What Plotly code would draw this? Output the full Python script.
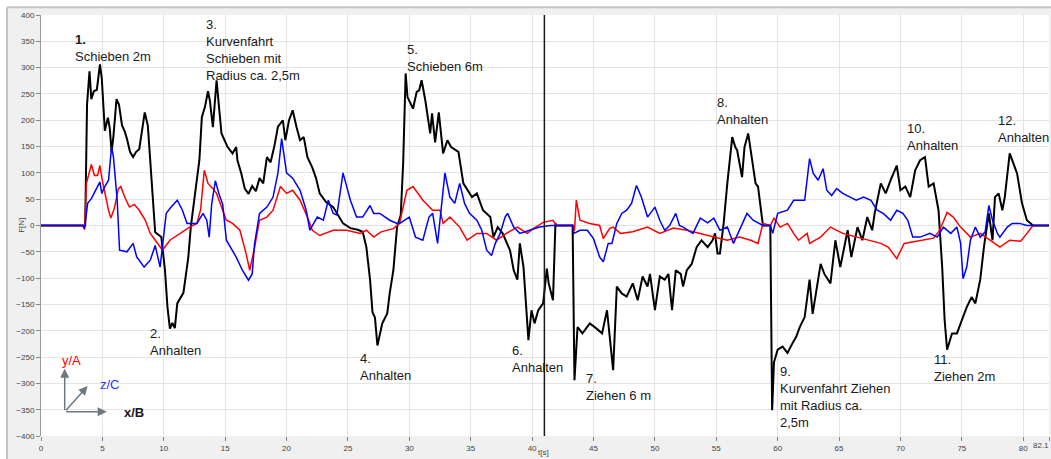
import plotly.graph_objects as go

# ---------------- data ----------------
t_black = [0, 3.5, 3.6, 3.75, 3.95, 4.1, 4.3, 4.55, 4.8, 4.95, 5.2, 5.45, 5.6, 5.75, 5.9, 6.15, 6.35, 6.6, 6.8, 7.0,
           7.25, 7.5, 7.75, 8.0, 8.2, 8.45, 8.7, 8.9, 9.1, 9.3, 9.8, 10.1, 10.3, 10.5, 10.7, 10.9, 11.1, 11.6, 12.0, 12.2,
           12.6, 12.9, 13.1, 13.35, 13.6, 13.75, 14.0, 14.15, 14.3, 14.5, 14.7, 14.95, 15.2, 15.6, 15.9, 16.0, 16.3, 16.6, 16.9, 17.2,
           17.5, 17.8, 18.1, 18.4, 18.7, 19.0, 19.3, 19.7, 19.9, 20.2, 20.5, 20.8, 21.1, 21.4, 21.7, 22.1, 22.4, 22.7, 23.2, 23.8,
           24.2, 24.6, 25.2, 25.8, 26.2, 26.5, 26.8, 27.0, 27.2, 27.4, 27.8, 28.2, 28.4, 28.7, 29.0, 29.3, 29.5, 29.7, 29.85, 30.3,
           30.6, 30.8, 31.0, 31.3, 31.7, 31.85, 32.1, 32.4, 32.75, 33.1, 33.4, 34.0, 34.4, 35.1, 35.5, 36.0, 36.6, 36.85, 37.2, 37.6,
           38.2, 38.5, 38.8, 39.0, 39.3, 39.7, 39.95, 40.2, 40.5, 40.9, 41.2, 41.35, 41.7, 41.9, 42.0, 43.3, 43.45, 43.7, 44.1, 44.7,
           45.2, 45.7, 46.1, 46.6, 46.9, 47.3, 47.7, 48.2, 48.6, 49.0, 49.4, 49.6, 50.0, 50.4, 50.8, 51.1, 51.4, 51.7, 52.1, 52.3,
           52.6, 53.0, 53.4, 53.8, 54.3, 54.7, 54.9, 55.1, 55.3, 55.6, 55.9, 56.3, 56.55, 56.7, 57.1, 57.3, 57.6, 57.9, 58.2, 58.4,
           58.6, 58.8, 59.4, 59.55, 59.7, 60.0, 60.4, 60.8, 61.2, 61.5, 61.8, 62.2, 62.6, 62.85, 63.5, 63.8, 64.3, 64.7, 65.1, 65.7,
           66.0, 66.5, 66.9, 67.3, 67.7, 67.9, 68.4, 68.8, 69.2, 69.7, 70.0, 70.4, 70.8, 71.2, 71.6, 72.0, 72.3, 72.7, 73.1, 73.4,
           73.6, 73.8, 74.2, 74.6, 75.0, 75.4, 75.8, 76.1, 76.5, 76.8, 77.2, 77.5, 77.7, 78.0, 78.3, 78.5, 78.9, 79.2, 79.5, 79.9,
           80.3, 80.8, 82.1]
f_black = [0, 0, 0, 230, 293, 240, 255, 258, 306, 280, 180, 205, 185, 140, 170, 240, 230, 190, 180, 165,
           140, 130, 140, 145, 180, 215, 190, 120, 60, -13, -22, -85, -155, -196, -185, -195, -148, -128, -60, -3,
           70, 124, 206, 225, 255, 238, 187, 238, 276, 225, 175, 162, 149, 137, 149, 124, 100, 70, 60, 75,
           65, 90, 80, 130, 120, 150, 188, 200, 162, 200, 219, 188, 162, 168, 130, 110, 90, 61, 45, 35,
           20, 4, -5, -8, -12, -41, -103, -165, -175, -228, -186, -167, -129, -85, -3, 20, 120, 289, 244, 222,
           254, 257, 276, 238, 175, 213, 158, 215, 137, 162, 149, 140, 80, 54, 61, 29, 16, -22, -3, -15,
           -47, -85, -103, -34, -79, -218, -161, -186, -161, -148, -82, -110, -142, 4, 0, 0, -294, -193, -205, -186,
           -195, -205, -161, -275, -116, -129, -135, -110, -142, -97, -116, -92, -161, -97, -103, -92, -161, -85, -92, -116,
           -85, -73, -41, -28, -41, -28, -15, -53, -53, 4, 80, 168, 149, 143, 92, 149, 175, 124, 80, 74,
           35, 0, 0, -351, -260, -236, -230, -242, -224, -212, -193, -174, -103, -168, -73, -92, -110, -28, -79, -9,
           -60, -3, -28, 16, -9, 23, 80, 61, 86, 114, 67, 74, 54, 105, 124, 130, 74, 80, 29, -79,
           -180, -236, -205, -205, -180, -155, -136, -148, -103, -41, 23, -28, 54, 61, 29, 54, 137, 118, 99, 42,
           10, 0, 0]

t_red = [0, 3.4, 3.55, 3.7, 4.1, 4.35, 4.6, 4.8, 4.95, 5.2, 5.5, 5.7, 6.0, 6.3, 6.5, 6.8, 7.2, 7.6, 8.0, 8.5,
         8.9, 9.4, 9.9, 10.5, 11.3, 12.1, 12.7, 13.0, 13.3, 13.6, 14.0, 14.3, 14.7, 15.1, 15.6, 16.2, 16.7, 17.0, 17.4, 17.8,
         18.4, 18.9, 19.5, 20.0, 20.5, 21.1, 21.7, 22.1, 22.7, 23.8, 24.9, 26.0, 26.5, 27.1, 27.7, 28.7, 29.2, 29.8, 30.3, 31.1,
         31.9, 32.5, 32.75, 33.3, 34.1, 34.7, 35.5, 36.3, 37.1, 37.9, 38.8, 39.6, 40.1, 40.9, 41.7, 42.0, 43.3, 43.45, 43.6, 43.9,
         44.7, 45.5, 45.8, 46.3, 46.6, 47.2, 48.2, 49.4, 50.4, 51.5, 52.6, 53.7, 54.8, 55.9, 56.9, 57.8, 58.4, 58.8, 59.4, 59.7,
         60.2, 60.8, 61.3, 61.7, 62.4, 62.6, 63.5, 64.3, 65.3, 66.5, 67.3, 68.4, 69.0, 69.7, 70.3, 71.6, 72.7, 73.2, 73.8, 74.3,
         74.9, 75.7, 76.5, 77.3, 78.1, 78.9, 79.8, 80.3, 80.8, 82.1]
f_red = [0, 0, -8, 80, 116, 95, 95, 114, 91, 61, 29, 14, 35, 70, 74, 55, 35, 40, 29, 10,
         -15, -31, -47, -28, -15, -3, 4, 30, 105, 80, 70, 61, 35, 10, 4, -9, -53, -85, -41, 10,
         16, 29, 74, 61, 67, 48, 16, -9, -19, -9, -9, -15, -9, -22, -12, -6, 4, 67, 74, 48,
         29, 29, 4, 16, -3, -28, -15, -15, -28, -15, -3, -15, -6, 6, 10, 0, 0, -10, 48, 10,
         4, 0, -25, -6, -3, -15, -12, -3, -15, -5, -9, -15, -22, -28, -22, -28, -34, 4, 0, 14,
         -3, 4, -15, -28, -15, -34, -22, -3, -15, -22, -28, -34, -41, -63, -34, -28, -24, -9, 25, 16,
         -3, -22, -15, -28, -41, -28, -30, -15, 0, 0]

t_blue = [0, 3.4, 3.55, 3.8, 4.1, 4.4, 4.8, 4.95, 5.2, 5.5, 5.75, 5.9, 6.05, 6.2, 6.4, 7.0, 7.5, 7.8, 8.0, 8.4,
          8.9, 9.3, 9.7, 9.9, 10.2, 10.6, 11.1, 11.5, 11.9, 12.7, 13.2, 13.5, 13.7, 13.9, 14.2, 14.5, 14.8, 15.1, 15.9, 16.4,
          16.9, 17.2, 17.4, 17.8, 18.4, 18.9, 19.3, 19.6, 19.8, 20.0, 20.5, 21.1, 21.6, 21.9, 22.5, 23.0, 23.4, 23.8, 24.1, 24.6,
          25.2, 25.7, 26.2, 26.8, 27.1, 27.6, 28.4, 29.0, 29.2, 30.0, 30.5, 31.1, 31.6, 31.9, 32.3, 32.9, 33.3, 33.7, 34.1, 34.5,
          34.9, 35.5, 35.9, 36.3, 36.7, 37.0, 37.4, 37.8, 38.0, 38.5, 39.0, 39.8, 40.6, 41.5, 43.3, 43.4, 43.9, 44.5, 45.0, 45.5,
          45.8, 46.2, 46.5, 46.9, 47.3, 47.7, 48.1, 48.5, 48.9, 49.4, 49.8, 50.0, 50.4, 50.8, 51.2, 51.7, 52.0, 52.3, 53.1, 53.7,
          54.3, 54.8, 55.3, 55.9, 56.4, 56.9, 57.5, 58.0, 58.8, 59.4, 59.6, 60.0, 60.8, 61.3, 61.8, 62.2, 62.6, 62.9, 63.3, 63.7,
          64.0, 64.4, 64.8, 65.3, 65.9, 66.4, 67.0, 67.6, 68.1, 68.6, 69.2, 69.7, 70.2, 70.6, 71.0, 71.6, 72.4, 73.0, 73.5, 74.1,
          74.6, 74.9, 75.1, 75.4, 75.7, 76.1, 76.5, 76.9, 77.2, 77.5, 77.9, 78.1, 78.7, 79.1, 79.7, 80.3, 82.1]
f_blue = [0, 0, -5, 42, 51, 64, 83, 61, 74, 86, 150, 130, 80, 50, -47, -50, -34, -60, -66, -79,
          -66, -38, -79, -41, 23, 35, 48, 30, 4, 4, 23, 10, -22, 40, 85, 60, 40, -28, -60, -85,
          -104, -92, -34, 23, 35, 54, 100, 165, 130, 100, 90, 67, 29, -9, 16, 10, 48, 23, 20, 100,
          48, 16, 16, 38, 23, 23, 10, 4, 4, 16, -22, -28, 16, 23, -34, 100, 54, 42, 80, 42,
          23, 10, -9, -47, -57, -34, -15, 16, 23, -3, -15, -9, -3, 0, 0, -15, -9, -9, -25, -60,
          -69, -34, -34, 4, 23, 29, 42, 76, 54, 16, 29, 35, 10, -9, 0, 23, 0, -3, -15, 14,
          5, 14, -9, -3, -34, -9, 23, 10, 0, 0, -15, 23, 29, 48, 48, 48, 127, 99, 86, 108,
          67, 57, 70, 61, 54, 48, 54, 48, 29, 23, 10, 29, 23, 10, -22, -22, -15, -22, -3, -15,
          -3, -34, -101, -79, -28, -3, -22, -12, 38, 10, -15, -22, -3, 4, 4, 0, 0]

x_ticks = [0, 5, 10, 15, 20, 25, 30, 35, 40, 45, 50, 55, 60, 65, 70, 75, 80, 82.1]
x_tick_labels = ["0", "5", "10", "15", "20", "25", "30", "35", "40", "45", "50", "55", "60", "65", "70", "75", "80", ""]
x_end_label = "82.1"
y_ticks = list(range(-400, 401, 50))
marker_t = 41.0

# annotations: (t, F, text)
labels = [
    (2.58, 372, "<b>1.</b><br>Schieben 2m"),
    (13.25, 400, "3.<br>Kurvenfahrt<br>Schieben mit<br>Radius ca. 2,5m"),
    (29.64, 352, "5.<br>Schieben 6m"),
    (54.9, 251, "8.<br>Anhalten"),
    (70.4, 202, "10.<br>Anhalten"),
    (77.8, 217, "12.<br>Anhalten"),
    (8.7, -187, "2.<br>Anhalten"),
    (25.8, -234, "4.<br>Anhalten"),
    (38.2, -220, "6.<br>Anhalten"),
    (44.2, -273, "7.<br>Ziehen 6 m"),
    (60.0, -259, "9.<br>Kurvenfahrt Ziehen<br>mit Radius ca.<br>2,5m"),
    (72.6, -236, "11.<br>Ziehen 2m"),
]

# ---------------- figure ----------------
fig = go.Figure()
fig.add_trace(go.Scatter(x=t_black, y=f_black, mode="lines", line=dict(color="#000000", width=2), name="x/B"))
fig.add_trace(go.Scatter(x=t_red, y=f_red, mode="lines", line=dict(color="#ff0000", width=1.5), name="y/A"))
fig.add_trace(go.Scatter(x=t_blue, y=f_blue, mode="lines", line=dict(color="#0000ff", width=1.5), name="z/C"))

font_main = "Liberation Sans, Arial, sans-serif"
annotations = []
for tx, fy, txt in labels:
    annotations.append(dict(x=tx, y=fy, xref="x", yref="y", text=txt, showarrow=False,
                            xanchor="left", yanchor="top", align="left",
                            font=dict(family=font_main, size=13, color="#1a1a1a")))

# coordinate icon (decorative)
ox, oy = 1.93, -354
arrow_col = "#6b7880"
annotations += [
    dict(x=1.93, y=-272, ax=ox, ay=oy, xref="x", yref="y", axref="x", ayref="y", text="",
         showarrow=True, arrowhead=2, arrowsize=1.2, arrowwidth=1.5, arrowcolor=arrow_col),
    dict(x=5.35, y=-354, ax=ox, ay=oy, xref="x", yref="y", axref="x", ayref="y", text="",
         showarrow=True, arrowhead=2, arrowsize=1.2, arrowwidth=1.5, arrowcolor=arrow_col),
    dict(x=3.8, y=-305, ax=ox, ay=oy, xref="x", yref="y", axref="x", ayref="y", text="",
         showarrow=True, arrowhead=2, arrowsize=1.2, arrowwidth=1.5, arrowcolor=arrow_col),
    dict(x=2.5, y=-257, xref="x", yref="y", text="y/A", showarrow=False,
         font=dict(family=font_main, size=13, color="#ff0000")),
    dict(x=5.6, y=-302, xref="x", yref="y", text="z/C", showarrow=False,
         font=dict(family=font_main, size=13, color="#3333ff")),
    dict(x=7.6, y=-356, xref="x", yref="y", text="<b>x/B</b>", showarrow=False,
         font=dict(family=font_main, size=13, color="#1a1a1a")),
    # axis titles
    dict(x=-0.026, y=0.5, xref="paper", yref="paper", text="F[N]", textangle=-90, showarrow=False,
         font=dict(family=font_main, size=8, color="#444444")),
    dict(x=0.499, y=-0.039, xref="paper", yref="paper", text="t[s]", showarrow=False,
         yanchor="middle", font=dict(family=font_main, size=8, color="#444444")),
    # end-of-axis tick label, kept fully inside the page
    dict(x=1.0015, y=-0.023, xref="paper", yref="paper", text=x_end_label, showarrow=False,
         xanchor="right", yanchor="middle", font=dict(family=font_main, size=8, color="#444444")),
]

shapes = [
    # white outer border strips
    dict(type="rect", xref="paper", yref="paper", x0=-0.05, x1=1.01, y0=1.0185, y1=1.06,
         fillcolor="white", line=dict(width=0), layer="above"),
    dict(type="rect", xref="paper", yref="paper", x0=-0.05, x1=-0.0337, y0=-0.1, y1=1.06,
         fillcolor="white", line=dict(width=0), layer="above"),
    dict(type="line", xref="paper", yref="paper", x0=-0.0337, x1=1.01, y0=1.0185, y1=1.0185,
         line=dict(color="#c4c4c4", width=2), layer="above"),
    dict(type="line", xref="paper", yref="paper", x0=-0.0337, x1=-0.0337, y0=-0.1, y1=1.0185,
         line=dict(color="#c4c4c4", width=2), layer="above"),
    # cursor line
    dict(type="line", xref="x", yref="paper", x0=marker_t, x1=marker_t, y0=0, y1=1,
         line=dict(color="#1a1a1a", width=1.5)),
]

fig.update_layout(
    width=1051, height=459,
    margin=dict(l=41, r=2, t=15, b=23, autoexpand=False),
    paper_bgcolor="#f0f0f0",
    plot_bgcolor="white",
    showlegend=False,
    annotations=annotations,
    shapes=shapes,
    font=dict(family=font_main),
)
fig.update_xaxes(range=[0, 82.1], tickvals=x_ticks, ticktext=x_tick_labels,
                 showgrid=True, gridcolor="#e4e4e4", gridwidth=1,
                 ticks="outside", ticklen=4, tickcolor="#888888",
                 tickfont=dict(size=8, color="#444444"), zeroline=False,
                 showline=False, automargin=False)
fig.update_yaxes(range=[-400, 400], tickvals=y_ticks,
                 showgrid=True, gridcolor="#e4e4e4", gridwidth=1,
                 ticks="outside", ticklen=4, tickcolor="#888888",
                 tickfont=dict(size=8, color="#444444"), zeroline=False,
                 showline=True, linecolor="#9a9a9a", linewidth=1, automargin=False)

fig.write_html("out.html", config={"displayModeBar": False},
               post_script="document.body.style.margin='0px'; document.body.style.overflow='hidden';")
